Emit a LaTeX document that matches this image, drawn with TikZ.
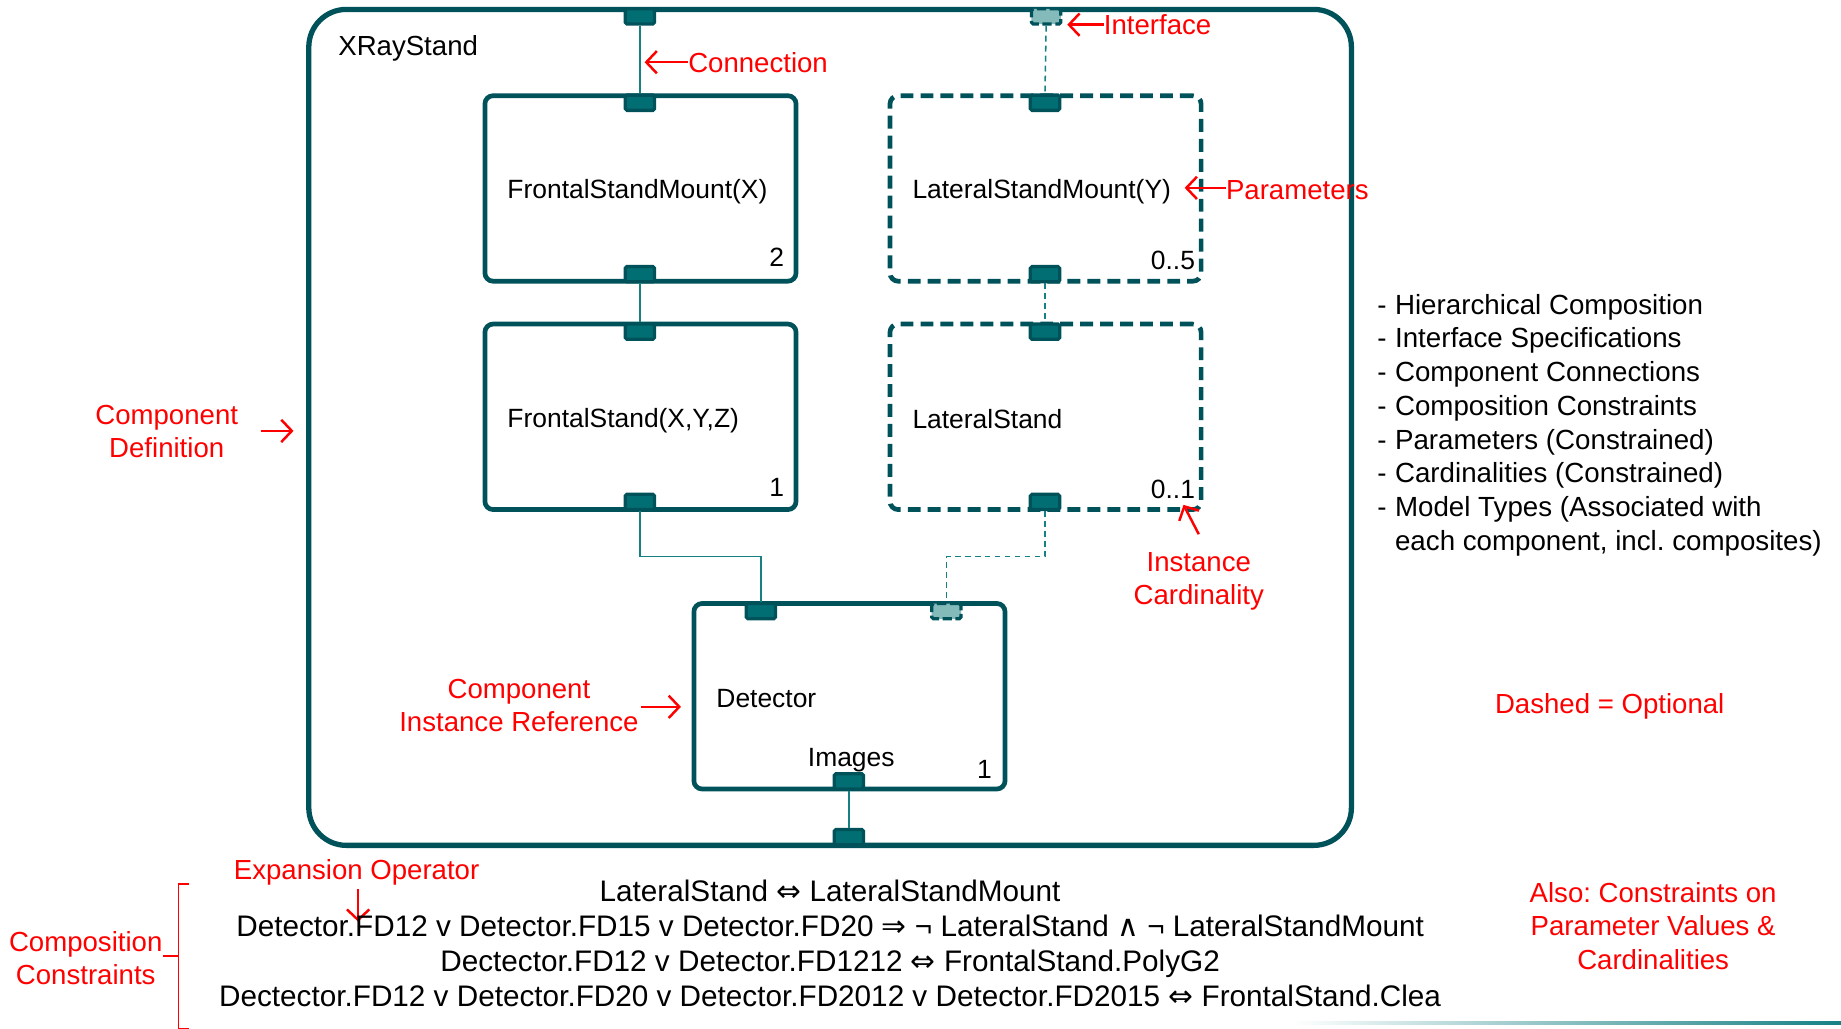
\documentclass[tikz,border=0pt]{standalone}
\usepackage{fontspec}
\setmainfont{Liberation Sans}
\newfontfamily\symfont{DejaVu Sans}
\usetikzlibrary{arrows.meta,calc}

\definecolor{frame}{HTML}{00525A}
\definecolor{portfill}{HTML}{006E72}
\definecolor{wirec}{HTML}{168184}
\definecolor{portlight}{HTML}{84BABA}
\definecolor{notec}{HTML}{FF0000}

\tikzset{
  compbox/.style={draw=frame, line width=4pt, rounded corners=7pt,
    minimum width=265pt, minimum height=158pt, inner sep=0pt},
  optbox/.style={compbox, dash pattern=on 11pt off 6pt},
  port/.style={draw=frame, fill=portfill, line width=2.8pt, rounded corners=1.5pt,
    minimum width=25pt, minimum height=13pt, inner sep=0pt},
  iport/.style={port, fill=portlight, dash pattern=on 8pt off 3pt},
  wire/.style={draw=wirec, line width=1.3pt},
  optwire/.style={wire, dash pattern=on 5pt off 3.5pt},
  lbl/.style={font=\fontsize{22.5}{27}\selectfont, inner sep=0pt, anchor=west},
  card/.style={font=\fontsize{22.5}{27}\selectfont, inner sep=0pt, anchor=east},
  note/.style={text=notec, font=\fontsize{23.5}{28.5}\selectfont, align=center, inner sep=0pt},
  pointer/.style={draw=notec, line width=2.1pt, -{Straight Barb[length=9pt,width=19pt]}},
  rule/.style={font=\fontsize{25.3}{30}\selectfont, inner sep=0pt, anchor=base},
  feature/.style={font=\fontsize{23.6}{28.7}\selectfont, align=left, inner sep=0pt, anchor=west}
}

\newcommand{\itemdash}{\makebox[15pt][l]{-}}
\frenchspacing

\begin{document}
\begin{tikzpicture}[x=1pt,y=-1pt]
\useasboundingbox (0,0) rectangle (1568,876);

% composite component
\node[draw=frame, line width=4.5pt, rounded corners=32pt, minimum width=888pt,
      minimum height=712pt, inner sep=0pt] (xray) at (707,364) {};
\node[lbl, font=\fontsize{23.5}{28}\selectfont] (xrayname) at (288,41) {XRayStand};

% sub-components
\node[compbox] (fsm) at (545.5,160.5) {};
\node[optbox]  (lsm) at (890.5,160.5) {};
\node[compbox] (fs)  at (545.5,355) {};
\node[optbox]  (ls)  at (890.5,355) {};
\node[compbox] (det) at (723.5,593) {};

\node[lbl] (fsmname) at (432,163.5) {FrontalStandMount(X)};
\node[lbl] (lsmname) at (777,163.5) {LateralStandMount(Y)};
\node[lbl] (fsname)  at (432,358.5) {FrontalStand(X,Y,Z)};
\node[lbl] (lsname)  at (777,357) {LateralStand};
\node[lbl] (detname) at (610,595) {Detector};
\node[font=\fontsize{22.5}{27}\selectfont, inner sep=0pt] (imgname) at (725,647) {Images};

\node[card] (fsmcard) at (668,219) {2};
\node[card] (lsmcard) at (1018,222) {0..5};
\node[card] (fscard)  at (668,415) {1};
\node[card] (lscard)  at (1018,417) {0..1};
\node[card] (detcard) at (845,655) {1};

% ports
\node[port]  (xtop)  at (545,14) {};
\node[iport] (xintf) at (891,14) {};
\node[port]  (xbot)  at (723,713) {};
\node[port]  (fsmt)  at (545,87.5) {};
\node[port]  (fsmb)  at (545,233.5) {};
\node[port]  (lsmt)  at (890,87.5) {};
\node[port]  (lsmb)  at (890,233.5) {};
\node[port]  (fst)   at (545,282.5) {};
\node[port]  (fsb)   at (545,427.5) {};
\node[port]  (lst)   at (890,282.5) {};
\node[port]  (lsb)   at (890,427.5) {};
\node[port]  (dtl)   at (648,520.5) {};
\node[iport] (dtr)   at (806,520.5) {};
\node[port]  (dbot)  at (723,665.5) {};

% connections
\coordinate (row) at (0,474);
\draw[wire] (xtop.south) -- (fsmt.north);
\draw[wire] (fsmb.south) -- (fst.north);
\draw[wire] (fsb.south) -- (fsb.south |- row) -| (dtl.north);
\draw[wire] (dbot.south) -- (xbot.north);
\draw[optwire] (xintf.south) -- (lsmt.north);
\draw[optwire] (lsmb.south) -- (lst.north);
\draw[optwire] (lsb.south) -- (lsb.south |- row) -| (dtr.north);

% annotations
\node[note, anchor=west] (nconn) at (586,53) {Connection};
\coordinate (aconn) at (549,53);
\draw[pointer] (nconn.west) -- (aconn);

\node[note, anchor=west] (nintf) at (940,21) {Interface};
\coordinate (aintf) at (909,21);
\draw[pointer] (nintf.west) -- (aintf);

\node[note, anchor=west] (npar) at (1044,162) {Parameters};
\coordinate (apar) at (1009,160);
\draw[pointer] ($(npar.west)+(0,-2)$) -- (apar);

\node[note] (ndef) at (142,367.5) {Component\\Definition};
\coordinate (adef0) at (222,367);
\coordinate (adef) at (250,367);
\draw[pointer] (adef0) -- (adef);

\node[note] (nref) at (442,601) {Component\\Instance Reference};
\coordinate (aref) at (580,602);
\draw[pointer] (nref.east |- aref) ++(2,0) -- (aref);

\node[note] (ncard) at (1021,495) {Instance\\Cardinality};
\coordinate (acard0) at (1021,455);
\coordinate (acard) at (1008,430);
\draw[pointer] (acard0) -- (acard);

\node[note] (nopt) at (1371,602) {Dashed = Optional};
\node[note] (nalso) at (1408,788.5) {Also: Constraints on\\Parameter Values \&\\Cardinalities};

\node[note, anchor=west] (nexp) at (199,743) {Expansion Operator};
\coordinate (aexp0) at (305,757);
\coordinate (aexp) at (305,785);
\draw[pointer] (aexp0) -- (aexp);

\node[note] (ncomp) at (73,816) {Composition\\Constraints};
\draw[draw=notec, line width=1.3pt] (161,753) -- (152,753) -- (152,876) -- (161,876);
\draw[draw=notec, line width=1.3pt] (152,814) -- (ncomp.east |- 0,814);

% composition constraints
\node[rule] (r1) at (707,767.5) {LateralStand {\symfont ⇔} LateralStandMount};
\node[rule] (r2) at (707,797.5) {Detector.FD12 v Detector.FD15 v Detector.FD20 {\symfont ⇒} ¬ LateralStand {\symfont ∧} ¬ LateralStandMount};
\node[rule] (r3) at (707,827.5) {Dectector.FD12 v Detector.FD1212 {\symfont ⇔} FrontalStand.PolyG2};
\node[rule] (r4) at (707,857.5) {Dectector.FD12 v Detector.FD20 v Detector.FD2012 v Detector.FD2015 {\symfont ⇔} FrontalStand.Clea};

% feature list
\node[feature] (feat) at (1173,362) {%
\itemdash Hierarchical Composition\\
\itemdash Interface Specifications\\
\itemdash Component Connections\\
\itemdash Composition Constraints\\
\itemdash Parameters (Constrained)\\
\itemdash Cardinalities (Constrained)\\
\itemdash Model Types (Associated with\\
\hspace*{15pt}each component, incl. composites)};

% footer rule
\shade[left color=white, right color=wirec] (1100,870) rectangle (1568,872.5);
\end{tikzpicture}
\end{document}
